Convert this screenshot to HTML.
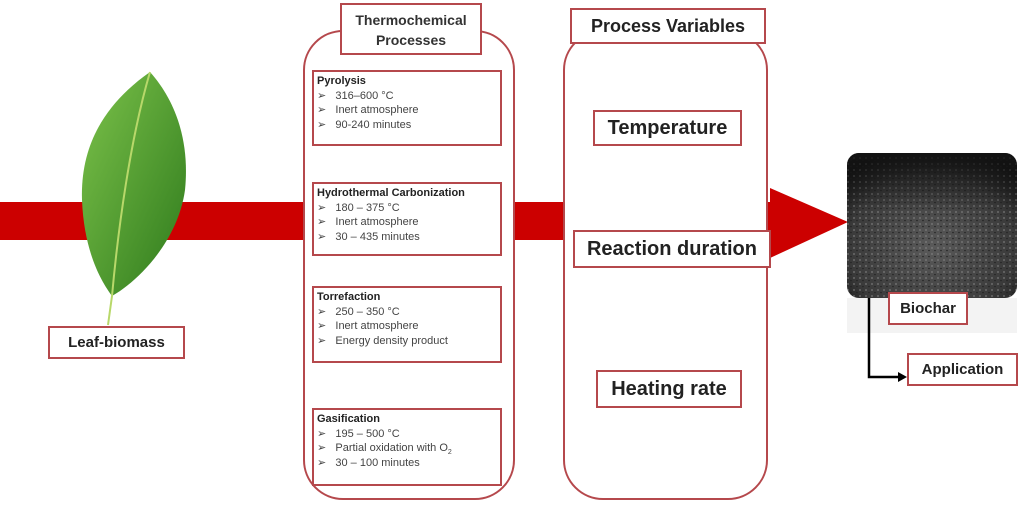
<!DOCTYPE html>
<html><head><style>
body{margin:0;width:1024px;height:512px;background:#fff;position:relative;overflow:hidden;font-family:"Liberation Sans",sans-serif}
.a{position:absolute;box-sizing:border-box}
.box{position:absolute;box-sizing:border-box;border:2px solid #b5484c;background:#fff}
.sub{font-size:11px;color:#444;line-height:14.5px;padding:2px 0 0 3px}
.sub b{color:#222}
.big{font-weight:bold;font-size:20px;color:#222;text-align:center}
</style></head><body>
<svg class="a" style="left:0;top:0" width="1024" height="512">
<rect x="0" y="202" width="790" height="38" fill="#cc0000"/>
<polygon points="770,188 848,222 770,258" fill="#cc0000"/>
<defs><radialGradient id="g" cx="50%" cy="65%" r="70%"><stop offset="0" stop-color="#5a5a5a"/><stop offset="0.7" stop-color="#3a3a3a"/><stop offset="1" stop-color="#151515"/></radialGradient>
<pattern id="dots" width="6" height="6" patternUnits="userSpaceOnUse"><circle cx="2" cy="2" r="1" fill="#888" opacity="0.6"/><circle cx="5" cy="4.5" r="0.8" fill="#222"/></pattern>
<linearGradient id="top" x1="0" y1="0" x2="0" y2="1"><stop offset="0" stop-color="#111" stop-opacity="0.9"/><stop offset="0.4" stop-color="#111" stop-opacity="0"/></linearGradient>
<linearGradient id="lf" x1="0" y1="0" x2="1" y2="1"><stop offset="0" stop-color="#7cc24a"/><stop offset="1" stop-color="#2e7a1c"/></linearGradient></defs>
<path d="M150,72 C110,100 80,140 82,200 C84,250 100,280 112,296 C140,280 178,240 185,190 C190,140 175,100 150,72 Z" fill="url(#lf)"/>
<path d="M150,72 C130,140 118,230 112,296 L108,325" stroke="#b8d86a" stroke-width="2" fill="none"/>
<rect x="847" y="153" width="170" height="145" rx="12" fill="url(#g)"/>
<rect x="847" y="153" width="170" height="145" rx="12" fill="url(#dots)"/>
<rect x="847" y="153" width="170" height="145" rx="12" fill="url(#top)"/>
<rect x="847" y="298" width="170" height="35" fill="#eee" opacity="0.7"/>
<path d="M869,298 V377 H900" stroke="#000" stroke-width="2.5" fill="none"/>
<polygon points="898,372 907,377 898,382" fill="#000"/>
</svg>
<div class="a" style="left:303px;top:30px;width:212px;height:470px;border:2px solid #b5484c;border-radius:40px;background:#fff"></div>
<div class="a" style="left:563px;top:30px;width:205px;height:470px;border:2px solid #b5484c;border-radius:40px;background:#fff"></div>
<div class="box" style="left:340px;top:3px;width:142px;height:52px;font-weight:bold;font-size:14px;text-align:center;line-height:20px;padding-top:5px;color:#333">Thermochemical<br>Processes</div>
<div class="box sub" style="left:312px;top:70px;width:190px;height:76px"><b>Pyrolysis</b><br>➢ &nbsp; 316–600 °C<br>➢ &nbsp; Inert atmosphere<br>➢ &nbsp; 90-240 minutes</div>
<div class="box sub" style="left:312px;top:182px;width:190px;height:74px"><b>Hydrothermal Carbonization</b><br>➢ &nbsp; 180 – 375 °C<br>➢ &nbsp; Inert atmosphere<br>➢ &nbsp; 30 – 435 minutes</div>
<div class="box sub" style="left:312px;top:286px;width:190px;height:77px"><b>Torrefaction</b><br>➢ &nbsp; 250 – 350 °C<br>➢ &nbsp; Inert atmosphere<br>➢ &nbsp; Energy density product</div>
<div class="box sub" style="left:312px;top:408px;width:190px;height:78px"><b>Gasification</b><br>➢ &nbsp; 195 – 500 °C<br>➢ &nbsp; Partial oxidation with O<sub style="font-size:7px;line-height:0">2</sub><br>➢ &nbsp; 30 – 100 minutes</div>
<div class="box big" style="left:570px;top:8px;width:196px;height:36px;font-size:18px;line-height:32px">Process Variables</div>
<div class="box big" style="left:593px;top:110px;width:149px;height:36px;line-height:32px">Temperature</div>
<div class="box big" style="left:573px;top:230px;width:198px;height:38px;line-height:34px">Reaction duration</div>
<div class="box big" style="left:596px;top:370px;width:146px;height:38px;line-height:34px">Heating rate</div>
<div class="box" style="left:48px;top:326px;width:137px;height:33px;font-weight:bold;font-size:15px;text-align:center;line-height:29px;color:#222">Leaf-biomass</div>
<div class="box" style="left:888px;top:292px;width:80px;height:33px;font-weight:bold;font-size:15px;text-align:center;line-height:29px;color:#222">Biochar</div>
<div class="box" style="left:907px;top:353px;width:111px;height:33px;font-weight:bold;font-size:15px;text-align:center;line-height:29px;color:#222">Application</div>
</body></html>
